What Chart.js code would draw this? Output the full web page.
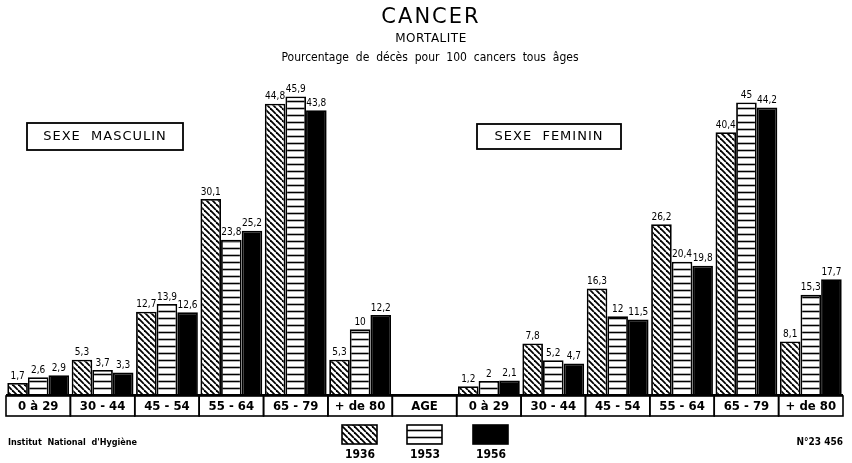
<!DOCTYPE html>
<html>
<head>
<meta charset="utf-8">
<script src="https://cdn.jsdelivr.net/npm/chart.js@4.4.0/dist/chart.umd.min.js"></script>
<style>
  html, body { margin: 0; padding: 0; background: #fff; }
  #wrap { width: 852px; height: 463px; position: relative; }
</style>
</head>
<body>
<div id="wrap"><canvas id="chart" width="852" height="463"></canvas></div>
<script>
const ageLabels = ['0 à 29', '30 - 44', '45 - 54', '55 - 64', '65 - 79', '+ de 80'];
const middleLabel = 'AGE';
const years = ['1936', '1953', '1956'];
const masc1936 = [1.7, 5.3, 12.7, 30.1, 44.8, 5.3];
const masc1953 = [2.6, 3.7, 13.9, 23.8, 45.9, 10];
const masc1956 = [2.9, 3.3, 12.6, 25.2, 43.8, 12.2];
const fem1936 = [1.2, 7.8, 16.3, 26.2, 40.4, 8.1];
const fem1953 = [2, 5.2, 12, 20.4, 45, 15.3];
const fem1956 = [2.1, 4.7, 11.5, 19.8, 44.2, 17.7];

const labels = [...ageLabels, middleLabel, ...ageLabels];
const join = (m, f) => [...m, null, ...f];

function makePattern(kind) {
    const c = document.createElement('canvas');
    const s = kind === 'diag' ? 6 : 7;
    c.width = s; c.height = s;
    const g = c.getContext('2d');
    g.fillStyle = '#fff';
    g.fillRect(0, 0, s, s);
    g.strokeStyle = '#000';
    if (kind === 'diag') {
        g.lineWidth = 1.8;
        for (let k = -1; k <= 1; k++) {
            g.beginPath();
            g.moveTo(k * s, 0);
            g.lineTo(k * s + s, s);
            g.stroke();
        }
    } else {
        g.lineWidth = 1.6;
        g.beginPath();
        g.moveTo(0, 3.5);
        g.lineTo(s, 3.5);
        g.stroke();
    }
    return g.createPattern(c, 'repeat');
}

const fills = [makePattern('diag'), makePattern('horiz'), '#000'];

const fmt = v => String(v).replace('.', ',');

const decorPlugin = {
    id: 'decor',
    afterDatasetsDraw(chart) {
        const ctx = chart.ctx;
        const x = chart.scales.x;
        const area = chart.chartArea;
        ctx.save();
        ctx.fillStyle = '#000';
        ctx.strokeStyle = '#000';

        // value labels
        ctx.font = '10px "DejaVu Sans Condensed", "DejaVu Sans", sans-serif';
        ctx.textAlign = 'center';
        ctx.textBaseline = 'bottom';
        chart.data.datasets.forEach((ds, i) => {
            chart.getDatasetMeta(i).data.forEach((bar, j) => {
                const v = ds.data[j];
                if (v == null) return;
                ctx.fillText(fmt(v), bar.x, bar.y - 2);
            });
        });

        // category boxes
        const half = (x.getPixelForValue(1) - x.getPixelForValue(0)) / 2;
        ctx.lineWidth = 1.6;
        ctx.font = 'bold 13px "DejaVu Sans Condensed", "DejaVu Sans", sans-serif';
        ctx.textBaseline = 'middle';
        labels.forEach((lab, i) => {
            const cx = x.getPixelForValue(i);
            ctx.strokeRect(cx - half, area.bottom + 2, half * 2, 20);
            ctx.fillText(lab, cx, area.bottom + 12.5);
        });
        ctx.lineWidth = 2;
        ctx.beginPath();
        ctx.moveTo(area.left, area.bottom + 1);
        ctx.lineTo(area.right, area.bottom + 1);
        ctx.stroke();

        // sex boxes
        ctx.font = '13px "DejaVu Sans", sans-serif';
        ctx.letterSpacing = '1px';
        ctx.lineWidth = 1.8;
        ctx.strokeRect(27, 123, 156, 27);
        ctx.fillText('SEXE  MASCULIN', 105, 137);
        ctx.strokeRect(477, 124, 144, 25);
        ctx.fillText('SEXE  FEMININ', 549, 137);

        // titles
        ctx.letterSpacing = '2px';
        ctx.font = '21px "DejaVu Sans", sans-serif';
        ctx.textBaseline = 'alphabetic';
        ctx.fillText('CANCER', 431, 23);
        ctx.letterSpacing = '0.5px';
        ctx.font = '12px "DejaVu Sans", sans-serif';
        ctx.fillText('MORTALITE', 431, 42);
        ctx.letterSpacing = '0px';
        ctx.font = '12px "DejaVu Sans Condensed", "DejaVu Sans", sans-serif';
        ctx.fillText('Pourcentage  de  décès  pour  100  cancers  tous  âges', 430, 61);

        // legend
        const sw = [342, 407, 473];
        chart.data.datasets.forEach((ds, i) => {
            ctx.fillStyle = ds.backgroundColor;
            ctx.fillRect(sw[i], 425, 35, 19);
            ctx.lineWidth = 1.6;
            ctx.strokeRect(sw[i], 425, 35, 19);
            ctx.fillStyle = '#000';
            ctx.font = 'bold 12px "DejaVu Sans Condensed", "DejaVu Sans", sans-serif';
            ctx.textAlign = 'center';
            ctx.fillText(ds.label, sw[i] + 18, 458);
        });

        // footer
        ctx.font = 'bold 9px "DejaVu Sans Condensed", "DejaVu Sans", sans-serif';
        ctx.textAlign = 'left';
        ctx.fillText("Institut  National  d'Hygiène", 8, 445);
        ctx.textAlign = 'right';
        ctx.font = 'bold 10px "DejaVu Sans Condensed", "DejaVu Sans", sans-serif';
        ctx.fillText('N°23 456', 843, 445);
        ctx.restore();
    }
};

new Chart(document.getElementById('chart'), {
    type: 'bar',
    data: {
        labels: labels,
        datasets: [
            { label: years[0], data: join(masc1936, fem1936), backgroundColor: fills[0] },
            { label: years[1], data: join(masc1953, fem1953), backgroundColor: fills[1] },
            { label: years[2], data: join(masc1956, fem1956), backgroundColor: fills[2] }
        ].map(d => Object.assign(d, {
            borderColor: '#000', borderWidth: 1.8, borderSkipped: 'bottom',
            categoryPercentage: 0.96, barPercentage: 1
        }))
    },
    options: {
        responsive: false,
        animation: false,
        layout: { padding: { left: 6, right: 9, top: 70, bottom: 69 } },
        scales: {
            x: { display: false, grid: { display: false } },
            y: { display: false, min: 0, max: 50 }
        },
        plugins: { legend: { display: false }, tooltip: { enabled: false } }
    },
    plugins: [decorPlugin]
});
</script>
</body>
</html>
